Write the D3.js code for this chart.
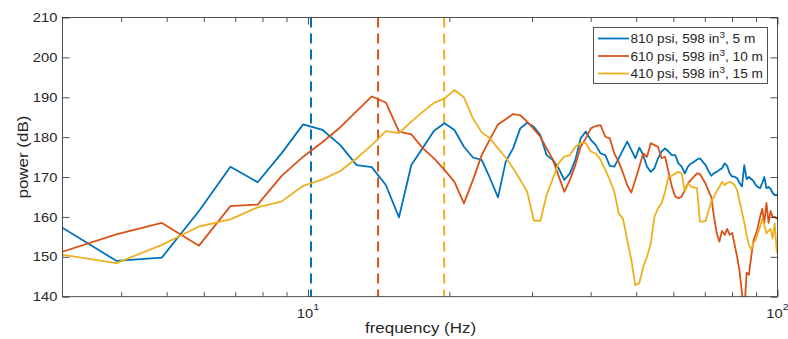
<!DOCTYPE html>
<html>
<head>
<meta charset="utf-8">
<script src="https://cdn.jsdelivr.net/npm/d3@7"></script>
<style>
	body { margin: 0; background: #fff; }
	svg text { font-family: "Liberation Sans", Arial, Helvetica, sans-serif; fill: #262626; }
</style>
</head>
<body>
<svg id="chart" width="788" height="339"></svg>
<script>
// FFT bins k = 3..103, bin width 1000/1024 Hz
var binWidth = 0.9765625;
var bins = d3.range(3, 104);
var freqs = bins.map(function(k) { return k * binWidth; });

var power5m = [
	158.0, 149.0, 149.8, 161.5, 172.6, 168.7, 176.0, 183.2, 181.8, 178.0,
	173.0, 172.5, 168.0, 159.9, 173.0, 177.4, 181.6, 183.5, 181.8, 177.6,
	174.9, 174.3, 169.7, 164.9, 173.8, 177.2, 182.2, 183.6, 182.6, 180.5,
	175.5, 174.3, 172.2, 169.3, 170.9, 174.3, 179.7, 181.4, 179.3, 178.0,
	175.9, 175.5, 172.8, 172.6, 174.7, 176.8, 178.9, 176.8, 174.7, 177.4,
	175.5, 172.6, 171.3, 172.2, 174.7, 176.4, 177.2, 176.4, 175.5, 175.5,
	173.4, 172.6, 170.9, 172.6, 173.4, 173.8, 174.4, 174.7, 173.8, 173.0,
	171.5, 170.3, 171.0, 171.3, 171.8, 172.2, 173.4, 172.8, 170.9, 170.1,
	170.1, 169.7, 168.5, 167.6, 173.0, 169.5, 170.0, 169.5, 169.0, 168.0,
	167.5, 167.2, 168.5, 170.0, 167.2, 167.5, 167.0, 166.0, 165.5, 165.5,
	165.3
];
var power10m = [
	150.9, 155.6, 158.5, 152.8, 162.7, 163.1, 170.3, 175.1, 178.8, 182.5,
	186.5, 190.2, 188.7, 181.4, 180.7, 177.2, 174.7, 171.8, 168.8, 163.4,
	169.3, 175.5, 179.5, 183.2, 184.5, 185.8, 185.5, 183.9, 182.0, 180.1,
	177.2, 174.5, 170.3, 166.3, 169.3, 173.0, 177.6, 179.7, 182.2, 182.8,
	183.0, 180.1, 179.7, 175.9, 173.8, 171.0, 168.0, 166.1, 169.3, 172.6,
	175.9, 175.1, 178.5, 178.0, 177.6, 174.7, 175.1, 171.3, 167.6, 165.1,
	164.7, 165.1, 166.7, 168.4, 169.3, 170.1, 170.9, 170.8, 169.5, 168.3,
	166.5, 165.0, 160.0, 156.0, 153.8, 156.5, 155.5, 157.0, 155.5, 156.0,
	153.0, 150.0, 146.5, 141.0, 136.0, 146.0, 145.5, 150.0, 154.0, 155.5,
	157.5, 160.0, 162.0, 158.5, 163.5, 158.5, 161.5, 160.0, 160.0, 159.6,
	159.6
];
var power15m = [
	150.7, 148.4, 153.0, 157.6, 159.4, 162.4, 163.9, 167.8, 169.4, 171.5,
	174.7, 178.0, 181.5, 181.0, 183.9, 186.4, 188.6, 189.7, 191.8, 190.0,
	184.7, 181.2, 179.7, 177.2, 174.9, 172.2, 169.3, 166.3, 159.1, 159.0,
	165.5, 169.5, 173.5, 175.1, 175.5, 177.6, 178.5, 178.5, 176.4, 175.9,
	174.3, 171.8, 169.3, 166.3, 160.9, 159.5, 154.2, 149.2, 142.9, 143.4,
	147.5, 150.0, 153.4, 160.1, 162.2, 163.4, 166.3, 170.1, 170.3, 170.9,
	171.3, 170.9, 166.3, 168.4, 167.6, 167.4, 167.2, 158.8, 158.8, 159.0,
	161.5, 164.0, 165.0, 166.5, 167.5, 168.8, 168.0, 168.5, 168.8, 168.5,
	168.0, 166.7, 164.0, 161.3, 158.5, 155.5, 153.0, 151.7, 153.5, 154.2,
	155.9, 157.5, 159.5, 158.0, 155.9, 156.5, 157.0, 154.6, 158.4, 151.5,
	150.0
];

// peak-frequency markers (dashed), one per series
var markerFreqs = [10.15, 14.1, 19.5];

var colors = ["#0072BD", "#D95319", "#EDB120"];
var legendPre = ["810 psi, 598 in", "610 psi, 598 in", "410 psi, 598 in"];
var legendPost = [", 5 m", ", 10 m", ", 15 m"];

var yTicks = [140, 150, 160, 170, 180, 190, 200, 210];
var xMajorTicks = [10, 100];
var xMajorExp = ["1", "2"];
var xMinorTicks = [4, 5, 6, 7, 8, 9, 20, 30, 40, 50, 60, 70, 80, 90];

var plotLeft = 62.5, plotRight = 777.5, plotTop = 17.5, plotBottom = 296.7;
var sx = 1.13; // the reference text is slightly wide
var axisColor = "#262626";

var x = d3.scaleLog().domain([3, 100]).range([plotLeft, plotRight]);
var y = d3.scaleLinear().domain([140, 210]).range([plotBottom, plotTop]);

var svg = d3.select("#chart");

svg.append("clipPath").attr("id", "plotClip")
	.append("rect")
	.attr("x", plotLeft).attr("y", plotTop)
	.attr("width", plotRight - plotLeft).attr("height", plotBottom - plotTop);

var plot = svg.append("g").attr("clip-path", "url(#plotClip)");

// dashed markers
plot.selectAll("line.marker")
	.data(markerFreqs)
	.enter().append("line")
	.attr("class", "marker")
	.attr("x1", function(d) { return x(d); })
	.attr("x2", function(d) { return x(d); })
	.attr("y1", plotTop).attr("y2", plotBottom)
	.style("stroke", function(d, i) { return colors[i]; })
	.style("stroke-width", 2)
	.style("stroke-dasharray", "10,6");

var line = d3.line()
	.x(function(d, i) { return x(freqs[i]); })
	.y(function(d) { return y(d); });

plot.selectAll("path.series")
	.data([power5m, power10m, power15m])
	.enter().append("path")
	.attr("class", "series")
	.attr("d", line)
	.style("fill", "none")
	.style("stroke", function(d, i) { return colors[i]; })
	.style("stroke-width", 1.8)
	.style("stroke-linejoin", "round");

// axes: inward ticks on all four sides
function styleAxis(g) {
	g.select(".domain").remove();
	g.selectAll(".tick line").style("stroke", axisColor).style("stroke-width", 0.8);
}

svg.append("g")
	.attr("transform", "translate(" + plotLeft + ",0)")
	.call(d3.axisLeft(y).tickValues(yTicks).tickSize(-7).tickPadding(4.6))
	.call(styleAxis)
	.selectAll("text")
	.attr("transform", "scale(" + sx + ",1)")
	.style("font-size", "13px")
	.style("fill", axisColor);

svg.append("g")
	.attr("transform", "translate(" + plotRight + ",0)")
	.call(d3.axisRight(y).tickValues(yTicks).tickSize(-7).tickFormat(""))
	.call(styleAxis);

[[plotBottom, d3.axisBottom], [plotTop, d3.axisTop]].forEach(function(a) {
	svg.append("g")
		.attr("transform", "translate(0," + a[0] + ")")
		.call(a[1](x).tickValues(xMinorTicks).tickSize(-4.5).tickFormat(""))
		.call(styleAxis);
	svg.append("g")
		.attr("transform", "translate(0," + a[0] + ")")
		.call(a[1](x).tickValues(xMajorTicks).tickSize(-7).tickFormat(""))
		.call(styleAxis);
});

// 10^n labels
xMajorTicks.forEach(function(t, i) {
	var lab = svg.append("text")
		.attr("transform", "translate(" + x(t) + "," + 317.5 + ") scale(" + sx + ",1)")
		.attr("text-anchor", "middle")
		.style("font-size", "13px");
	lab.append("tspan").text("10");
	lab.append("tspan").attr("dy", -8).style("font-size", "9.5px").text(xMajorExp[i]);
});

svg.append("rect")
	.attr("x", plotLeft).attr("y", plotTop)
	.attr("width", plotRight - plotLeft).attr("height", plotBottom - plotTop)
	.style("fill", "none")
	.style("stroke", axisColor)
	.style("stroke-width", 0.8);

svg.append("text")
	.attr("transform", "translate(" + ((plotLeft + plotRight) / 2 + 0.5) + ",333) scale(" + sx + ",1)")
	.attr("text-anchor", "middle")
	.style("font-size", "15px")
	.text("frequency (Hz)");

svg.append("text")
	.attr("transform", "translate(28," + ((plotTop + plotBottom) / 2) + ") rotate(-90) scale(" + sx + ",1)")
	.attr("text-anchor", "middle")
	.style("font-size", "15px")
	.text("power (dB)");

// legend
var lg = svg.append("g").attr("transform", "translate(593.5,27.5)");
lg.append("rect")
	.attr("width", 174).attr("height", 56)
	.style("fill", "#fff")
	.style("stroke", axisColor)
	.style("stroke-width", 0.8);

var rows = lg.selectAll("g.row")
	.data(legendPre)
	.enter().append("g")
	.attr("class", "row")
	.attr("transform", function(d, i) { return "translate(0," + (11 + i * 17.5) + ")"; });

rows.append("line")
	.attr("x1", 4.5).attr("x2", 35.5)
	.style("stroke", function(d, i) { return colors[i]; })
	.style("stroke-width", 1.8);

var rowText = rows.append("text")
	.attr("transform", "translate(37,4.6) scale(" + sx + ",1)")
	.style("font-size", "12.1px");
rowText.append("tspan").text(function(d) { return d; });
rowText.append("tspan").attr("dy", -5).style("font-size", "8.8px").text("3");
rowText.append("tspan").attr("dy", 5).text(function(d, i) { return legendPost[i]; });
</script>
</body>
</html>
